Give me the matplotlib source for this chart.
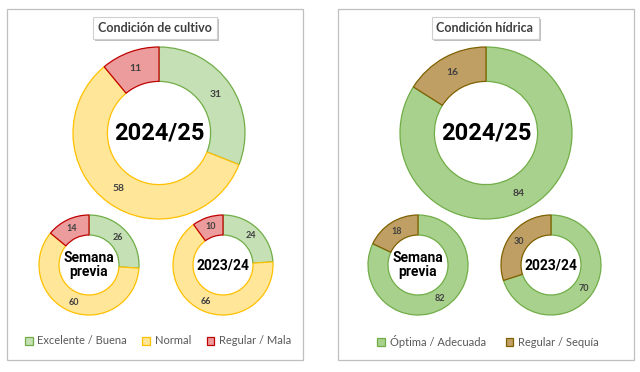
import matplotlib
matplotlib.use('Agg')
from matplotlib import pyplot as plt
from matplotlib.patches import Rectangle
import matplotlib.patheffects as pe

# datos (porcentajes)
cultivo_labels = ['Excelente / Buena', 'Normal', 'Regular / Mala']
cultivo_actual = [31, 58, 11]
cultivo_semana_previa = [26, 60, 14]
cultivo_anterior = [24, 66, 10]
cultivo_fill = ['#c5e0b4', '#ffe699', '#ec9c9c']
cultivo_edge = ['#70ad47', '#ffc000', '#c00000']

hidrica_labels = ['Óptima / Adecuada', 'Regular / Sequía']
hidrica_actual = [84, 16]
hidrica_semana_previa = [82, 18]
hidrica_anterior = [70, 30]
hidrica_fill = ['#a9d18e', '#bf9f64']
hidrica_edge = ['#70ad47', '#7f6000']

centro_textos = ['2024/25', 'Semana\nprevia', '2023/24']

W, H = 640, 372
plt.rcParams['font.family'] = ['Lato', 'DejaVu Sans']

fig = plt.figure(figsize=(6.4, 3.72), dpi=100)
ax = fig.add_axes([0, 0, 1, 1])


def donut(vals, cx, cy, r, fills, edges, lbl_size, center_text, center_size):
    wedges, _, autotexts = ax.pie(
        vals, center=(cx, H - cy), radius=r, startangle=90, counterclock=False,
        colors=fills, autopct=lambda p: '{:.0f}'.format(p), pctdistance=0.8,
        wedgeprops=dict(width=0.4 * r, linewidth=0.9),
        textprops=dict(fontsize=lbl_size, color='#404040', fontweight='bold'))
    for w, e in zip(wedges, edges):
        w.set_edgecolor(e)
    ax.text(cx, H - cy, center_text, ha='center', va='center', fontsize=center_size,
            fontweight='bold', family='Roboto', color='black', linespacing=1.0)
    return wedges


def titulo(x, y, s):
    t = ax.text(x, H - y, s, ha='center', va='center', fontsize=9, color='#404040',
                fontweight='bold',
                bbox=dict(boxstyle='square,pad=0.4', fc='white', ec='#d0d0d0', lw=0.8))
    t.get_bbox_patch().set_path_effects([
        pe.SimplePatchShadow(offset=(1.5, -1.5), shadow_rgbFace='#808080', alpha=0.5),
        pe.Normal()])


# paneles
for x0 in (7, 338):
    ax.add_patch(Rectangle((x0, H - 360), 296, 351, fill=False, ec='#bfbfbf', lw=0.9))

# condicion de cultivo
w1 = donut(cultivo_actual, 159, 133, 86, cultivo_fill, cultivo_edge, 7.5, centro_textos[0], 17)
donut(cultivo_semana_previa, 89, 265, 50, cultivo_fill, cultivo_edge, 6.5, centro_textos[1], 10)
donut(cultivo_anterior, 223, 265, 50, cultivo_fill, cultivo_edge, 6.5, centro_textos[2], 10)
titulo(155, 27.5, 'Condición de cultivo')

# condicion hidrica
w2 = donut(hidrica_actual, 486, 133, 86, hidrica_fill, hidrica_edge, 7.5, centro_textos[0], 17)
donut(hidrica_semana_previa, 418, 265, 50, hidrica_fill, hidrica_edge, 6.5, centro_textos[1], 10)
donut(hidrica_anterior, 551, 265, 50, hidrica_fill, hidrica_edge, 6.5, centro_textos[2], 10)
titulo(485, 27.5, 'Condición hídrica')

leg1 = ax.legend(w1, cultivo_labels, loc='center', bbox_to_anchor=(158 / W, (H - 341) / H),
                 ncol=3, frameon=False, fontsize=8, handlelength=0.7, handleheight=0.7,
                 handletextpad=0.4, columnspacing=1.4, labelcolor='#595959')
ax.add_artist(leg1)
ax.legend(w2, hidrica_labels, loc='center', bbox_to_anchor=(488 / W, (H - 341) / H),
          ncol=2, frameon=False, fontsize=8, handlelength=0.7, handleheight=0.7,
          handletextpad=0.4, columnspacing=1.8, labelcolor='#595959')

ax.set_xlim(0, W)
ax.set_ylim(0, H)
ax.set_aspect('auto')
ax.axis('off')

fig.savefig('out.png', dpi=100, facecolor='white')
